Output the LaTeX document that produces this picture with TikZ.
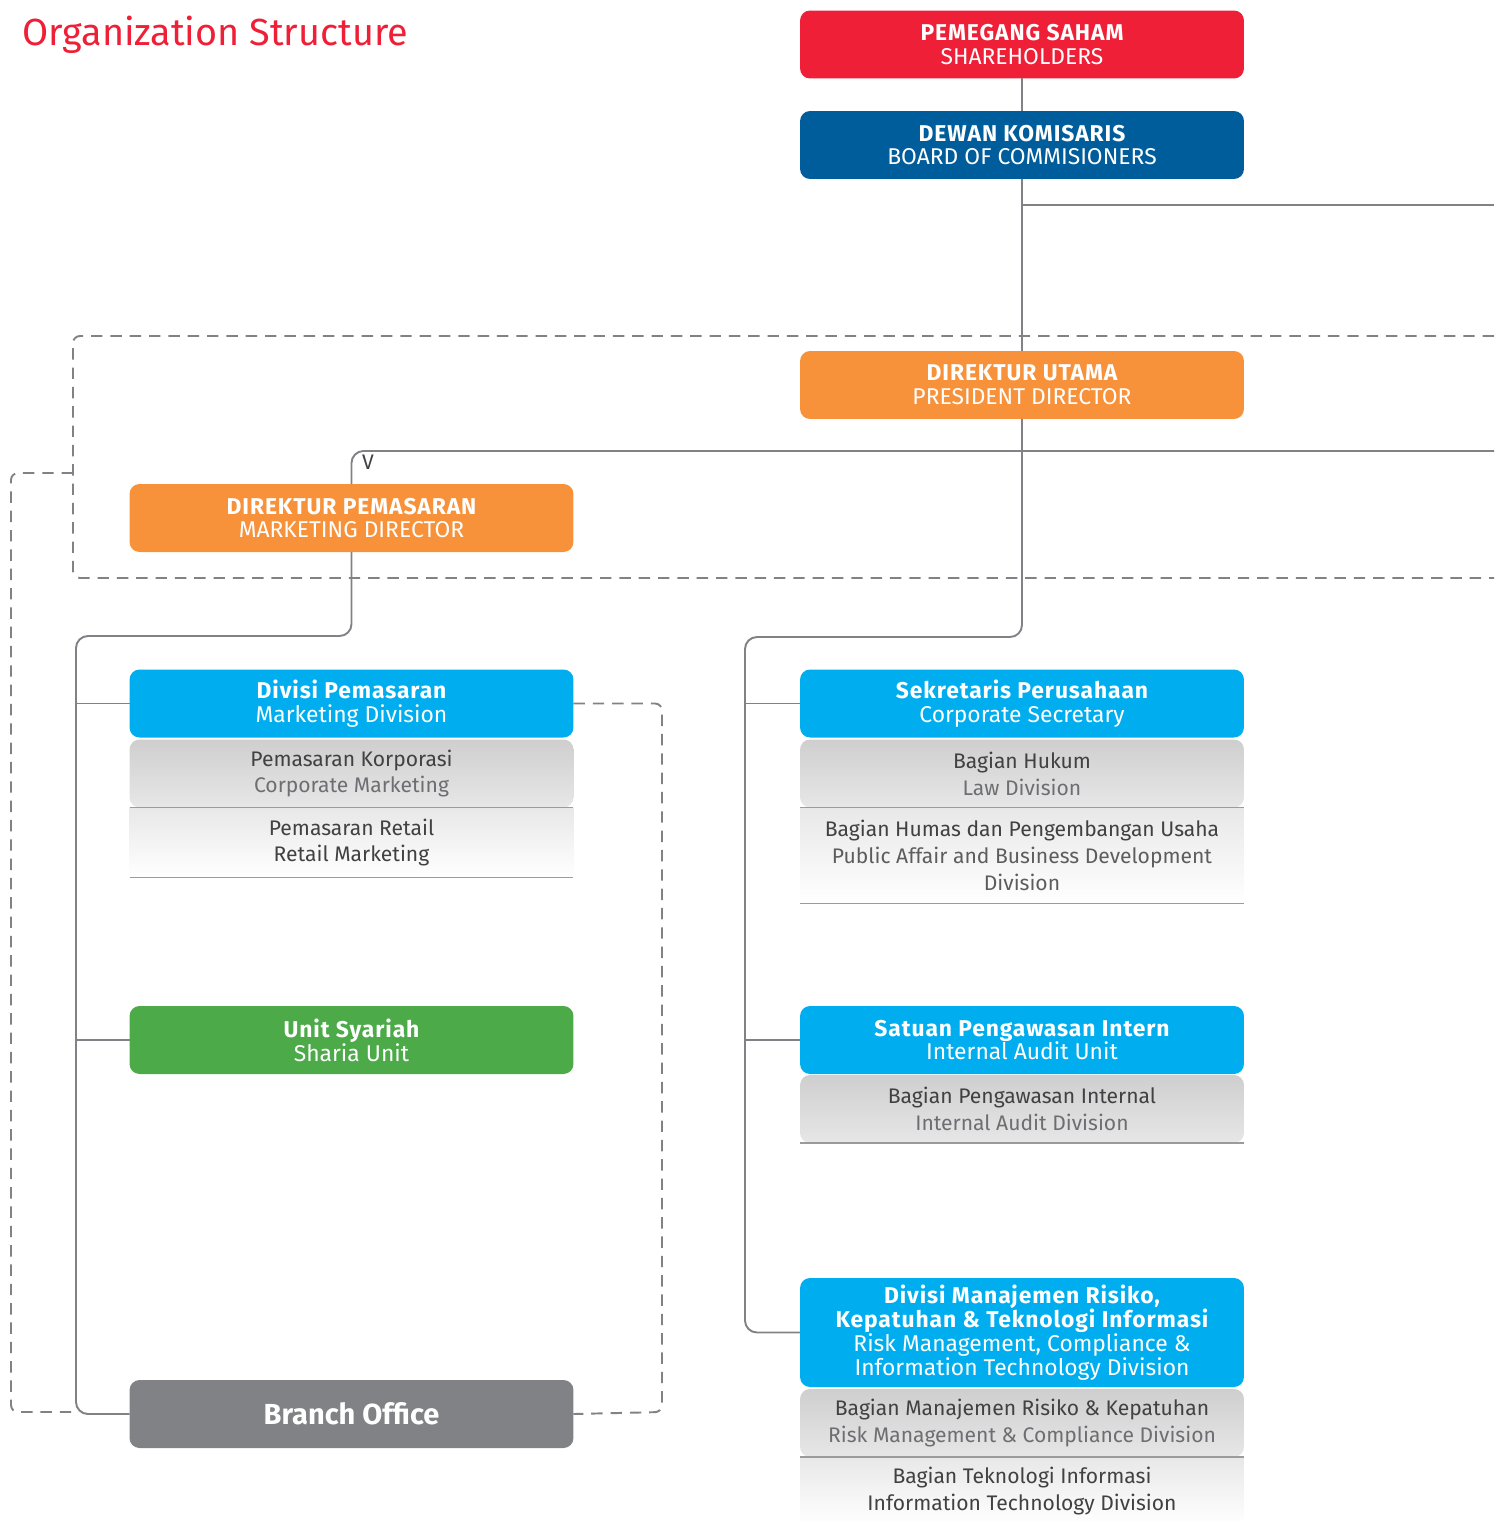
\documentclass[tikz,border=0pt]{standalone}
\usepackage{fontspec}
\setmainfont{Fira Sans}
\usetikzlibrary{positioning}

\definecolor{hdred}{HTML}{EE1F36}
\definecolor{navy}{HTML}{005D9C}
\definecolor{orng}{HTML}{F7923A}
\definecolor{cyan}{HTML}{00AEEF}
\definecolor{grn}{HTML}{4CAA48}
\definecolor{slate}{HTML}{808285}
\definecolor{darktxt}{HTML}{414042}
\definecolor{midtxt}{HTML}{6D6E71}

\newcommand\hd[1]{{\bfseries\addfontfeature{LetterSpace=4}#1}}

\tikzset{
  box/.style={rounded corners=0.2cm, minimum width=8.88cm, minimum height=1.36cm,
    inner sep=0pt, outer sep=0pt, align=center, text=white,
    font=\fontsize{13}{13.6}\selectfont},
  subbox/.style={box, text=darktxt, top color=#1, bottom color=white!50!#1,
    font=\fontsize{12}{15.3}\selectfont},
  subfade/.style={subbox=#1, rounded corners=0pt, bottom color=white},
  link/.style={draw=slate, line width=1.1pt, rounded corners=0.24cm},
  sep/.style={draw=slate!80, line width=0.6pt},
  grpline/.style={draw=slate, line width=1.1pt, dash pattern=on 6.5pt off 4.5pt, rounded corners=0.14cm}
}

\begin{document}
\begin{tikzpicture}[x=0.02cm, y=-0.02cm, node distance=0.04cm]
	\useasboundingbox (0,0) rectangle (1494,1521);
	\node[anchor=base west, inner sep=0pt, text=hdred, font=\fontsize{21.5}{24}\selectfont] (title) at (22,45) {Organization Structure};

	% top of the tree
	\node[box, fill=hdred] (sh)  at (1022,44.5) {\hd{PEMEGANG SAHAM}\\SHAREHOLDERS};
	\node[box, fill=navy]  (bod) at (1022,145)  {\hd{DEWAN KOMISARIS}\\BOARD OF COMMISIONERS};
	\node[box, fill=orng]  (pd)  at (1022,385)  {\hd{DIREKTUR UTAMA}\\PRESIDENT DIRECTOR};
	\node[box, fill=orng]  (md)  at (351.5,518) {\hd{DIREKTUR PEMASARAN}\\MARKETING DIRECTOR};
	\node[text=darktxt, font=\fontsize{12}{13.6}\selectfont] (vmark) at (368,462) {V};

	% marketing side
	\node[box, fill=cyan] (mkt) at (351.5,703.5) {\hd{Divisi Pemasaran}\\Marketing Division};
	\node[subbox=black!19, below=of mkt] (mktA) {Pemasaran Korporasi\\\textcolor{midtxt}{Corporate Marketing}};
	\node[subfade=black!9, below=0pt of mktA, minimum height=1.4cm] (mktB) {Pemasaran Retail\\Retail Marketing};
	\node[box, fill=grn] (sya) at (351.5,1040) {\hd{Unit Syariah}\\Sharia Unit};
	\node[box, fill=slate, font=\fontsize{16.5}{18}\selectfont\bfseries] (bo) at (351.5,1414) {Branch Office};

	% president side
	\node[box, fill=cyan] (cs) at (1022,703.5) {\hd{Sekretaris Perusahaan}\\Corporate Secretary};
	\node[subbox=black!19, below=of cs] (csA) {Bagian Hukum\\\textcolor{midtxt}{Law Division}};
	\node[subfade=black!9, below=0pt of csA, minimum height=1.92cm] (csB) {Bagian Humas dan Pengembangan Usaha\\\textcolor{darktxt!85}{Public Affair and Business Development}\\\textcolor{darktxt!85}{Division}};
	\node[box, fill=cyan] (ia) at (1022,1040) {\hd{Satuan Pengawasan Intern}\\Internal Audit Unit};
	\node[subbox=black!19, below=0.02cm of ia] (iaA) {Bagian Pengawasan Internal\\\textcolor{midtxt}{Internal Audit Division}};
	\node[box, fill=cyan, minimum height=2.18cm] (rm) at (1022,1332.5) {\hd{Divisi Manajemen Risiko,}\\\hd{Kepatuhan \& Teknologi Informasi}\\Risk Management, Compliance \&\\Information Technology Division};
	\node[subbox=black!19, below=of rm] (rmA) {Bagian Manajemen Risiko \& Kepatuhan\\\textcolor{midtxt}{Risk Management \& Compliance Division}};
	\node[subfade=black!9, below=0pt of rmA] (rmB) {Bagian Teknologi Informasi\\Information Technology Division};

	\foreach \n in {mktA, mktB, csA, csB, iaA, rmA}
		\draw[sep] (\n.south west) -- (\n.south east);

	% buses and free ends
	\coordinate (busL) at (76,636);
	\coordinate (busR) at (745,637);
	\coordinate (edge1) at (1494,205);
	\coordinate (edge2) at (1494,451);

	\draw[link] (sh) -- (bod);
	\draw[link] (bod) -- (pd);
	\draw[link] (bod.south |- edge1) -- (edge1);
	\draw[link] (md.north) |- (edge2);
	\draw[link] (pd.south) |- (busR) |- (rm.west);
	\draw[link] (md.south) |- (busL) |- (bo.west);
	\foreach \n/\bus in {mkt/busL, sya/busL, cs/busR, ia/busR}
		\draw[link, rounded corners=0pt] (\n.west -| \bus) -- (\n.west);

	% dashed groups
	\draw[grpline] (1494,336) -- (73,336) -- (73,578) -- (1494,578);
	\draw[grpline] (73,473) -- (11,473) -- (11,1412) -- (76,1412);
	\draw[grpline] (mkt.east) -| (662,1412) -- (bo.east);
\end{tikzpicture}
\end{document}
